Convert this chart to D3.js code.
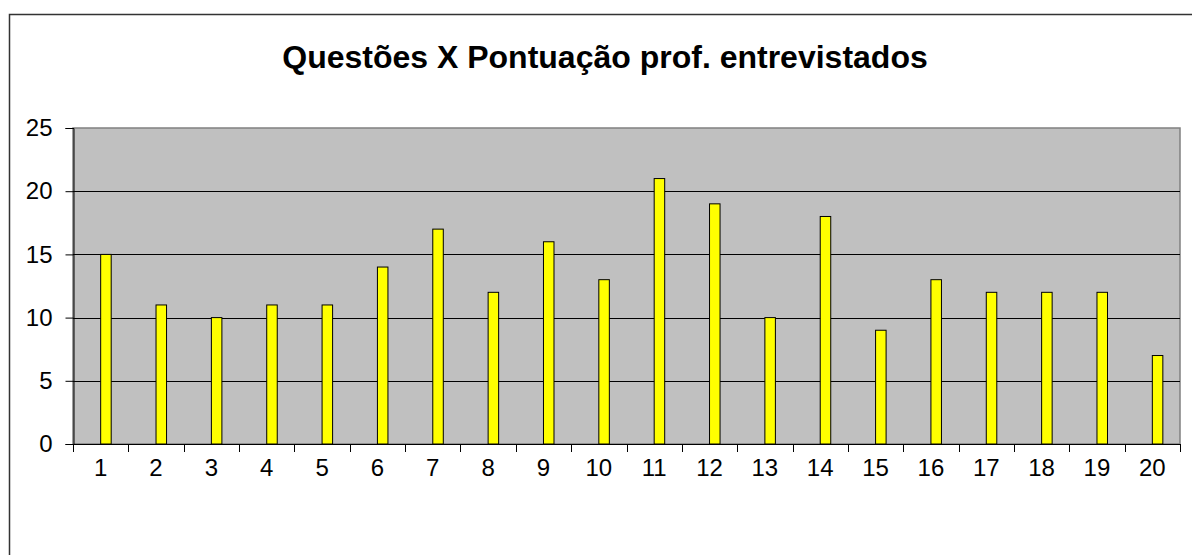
<!DOCTYPE html>
<html lang="pt">
<head>
<meta charset="utf-8">
<title>Questões X Pontuação prof. entrevistados</title>
<script src="https://d3js.org/d3.v7.min.js"></script>
<style>
  body { margin: 0; background: #fff; }
  svg { display: block; font-family: "Liberation Sans", Arial, sans-serif; }
</style>
</head>
<body>
<div id="chart"></div>
<script>
// dados
const questoes = d3.range(1, 21).map(String);
const pontos = [15, 11, 10, 11, 11, 14, 17, 12, 16, 13, 21, 19, 10, 18, 9, 13, 12, 12, 12, 7];
const yTicks = [0, 5, 10, 15, 20, 25];

const W = 1192, H = 555;
const plot = { left: 73, right: 1180, top: 128, bottom: 444 };

const svg = d3.select("#chart").append("svg")
  .attr("width", W).attr("height", H);

// moldura externa (sai da janela à direita e embaixo)
svg.append("rect")
  .attr("x", 9.5).attr("y", 14.5)
  .attr("width", W + 20).attr("height", H + 20)
  .attr("fill", "#fff").attr("stroke", "#333").attr("stroke-width", 1.5);

svg.append("text")
  .attr("x", 605).attr("y", 68)
  .attr("text-anchor", "middle")
  .attr("font-size", 32).attr("font-weight", "bold")
  .text("Questões X Pontuação prof. entrevistados");

const x = d3.scaleBand().domain(questoes).range([plot.left, plot.right]);
const y = d3.scaleLinear().domain([0, 25]).range([plot.bottom, plot.top]);

// fundo cinza da área de plotagem
svg.append("rect")
  .attr("x", plot.left).attr("y", plot.top)
  .attr("width", plot.right - plot.left).attr("height", plot.bottom - plot.top)
  .attr("fill", "#c0c0c0").attr("stroke", "#808080").attr("stroke-width", 1.5);

// linhas de grade
svg.append("g").selectAll("line")
  .data(yTicks.filter(d => d > 0 && d < 25))
  .join("line")
  .attr("x1", plot.left).attr("x2", plot.right)
  .attr("y1", d => Math.round(y(d)) + 0.5).attr("y2", d => Math.round(y(d)) + 0.5)
  .attr("stroke", "#000");

// barras (segunda metade de cada categoria, como no Excel)
const bw = x.bandwidth() * 0.19;
svg.append("g").selectAll("rect")
  .data(pontos)
  .join("rect")
  .attr("x", (d, i) => x(questoes[i]) + x.bandwidth() / 2)
  .attr("y", d => y(d))
  .attr("width", bw)
  .attr("height", d => plot.bottom - y(d))
  .attr("fill", "#ffff00").attr("stroke", "#000").attr("stroke-width", 1);

// eixo Y
const yAxis = d3.axisLeft(y).tickValues(yTicks).tickSize(8).tickPadding(13);
const gy = svg.append("g").attr("transform", `translate(${plot.left + 0.5},0)`).call(yAxis);
gy.select(".domain").attr("stroke", "#000");
gy.selectAll("text").attr("font-size", 24).attr("fill", "#000")
  .attr("font-family", "Liberation Sans, Arial, sans-serif");

// eixo X: marcas nas divisões das categorias
svg.append("line")
  .attr("x1", plot.left).attr("x2", plot.right)
  .attr("y1", plot.bottom + 0.5).attr("y2", plot.bottom + 0.5)
  .attr("stroke", "#000");
svg.append("g").selectAll("line")
  .data(questoes.concat(["end"]))
  .join("line")
  .attr("x1", (d, i) => Math.round(plot.left + i * x.step()) + 0.5)
  .attr("x2", (d, i) => Math.round(plot.left + i * x.step()) + 0.5)
  .attr("y1", plot.bottom).attr("y2", plot.bottom + 8)
  .attr("stroke", "#000");
svg.append("g").selectAll("text")
  .data(questoes)
  .join("text")
  .attr("x", d => x(d) + x.bandwidth() / 2)
  .attr("y", plot.bottom + 32)
  .attr("text-anchor", "middle")
  .attr("font-size", 24)
  .text(d => d);
</script>
</body>
</html>
